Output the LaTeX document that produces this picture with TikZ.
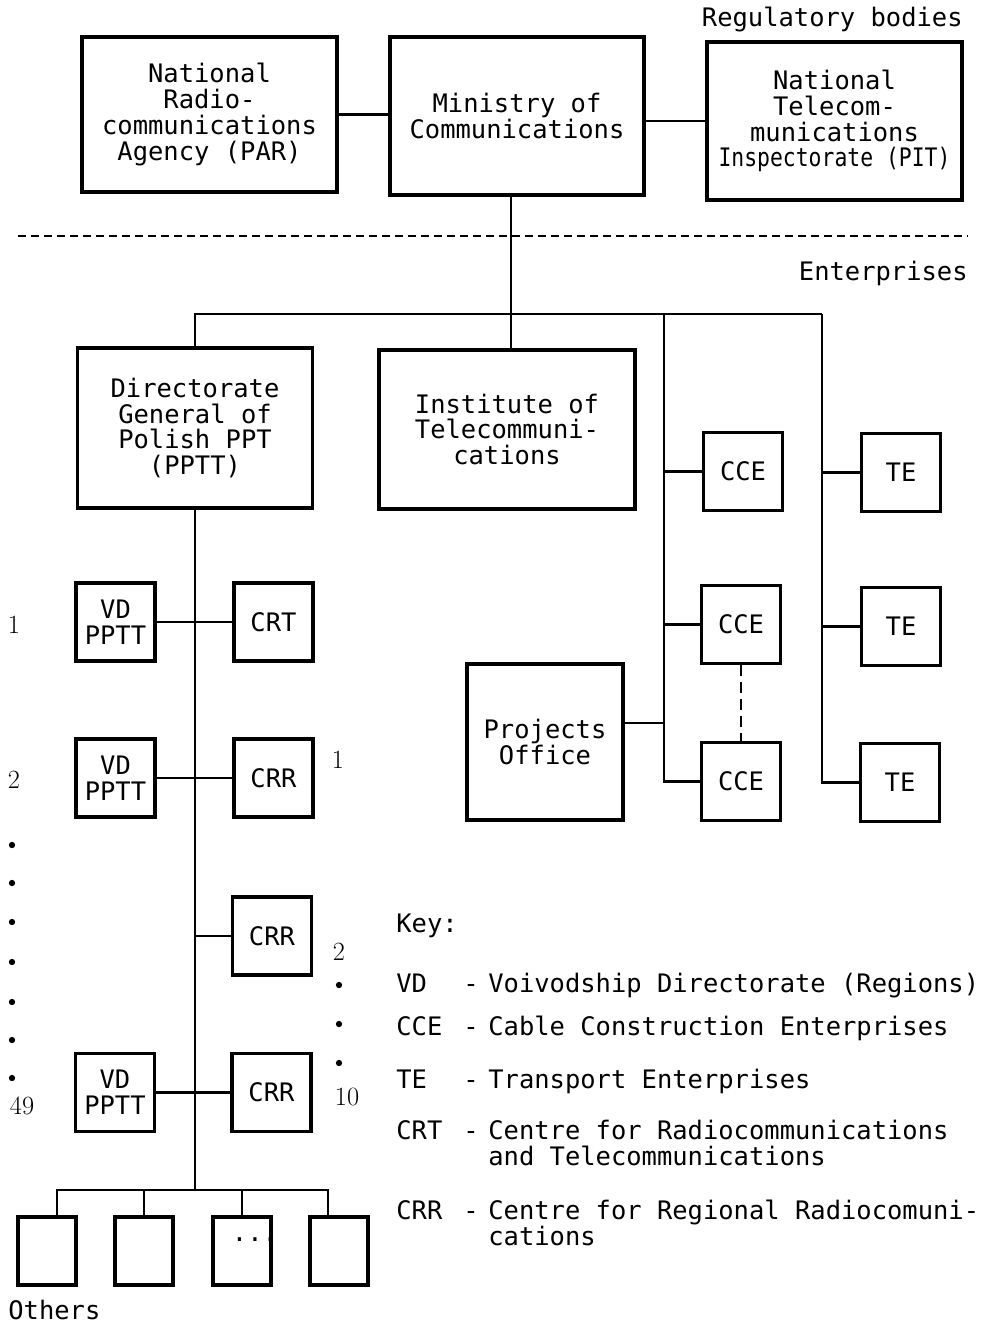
\documentclass[tikz,border=0pt]{standalone}
\usepackage{fontspec}
\usepackage{graphicx}
\newfontfamily\dotmatrix{DejaVu Sans Mono}

\begin{document}
\begin{tikzpicture}[x=0.02cm, y=-0.02cm,
  every node/.style={font=\dotmatrix\fontsize{14.5pt}{14.7pt}\selectfont},
  box/.style={draw, line width=2.2pt, align=center, inner sep=0pt},
  unit/.style={box, minimum width=1.58cm, minimum height=1.56cm},
  other/.style={box, minimum width=1.16cm, minimum height=1.36cm},
  link/.style={line width=1.4pt},
  count/.style={font=\rmfamily\fontsize{15pt}{15pt}\selectfont},
  keyword/.style={anchor=base west, inner sep=0pt}]
\useasboundingbox (0,0) rectangle (989,1324);

% regulatory bodies
\node[anchor=base east, inner sep=0pt] (reglabel) at (963,27) {Regulatory bodies};
\node[box, minimum width=5.1cm, minimum height=3.1cm] (par) at (209.5,114.5) {National\\Radio-\\communications\\Agency (PAR)};
\node[box, minimum width=5.08cm, minimum height=3.16cm] (min) at (517,116) {Ministry of\\Communications};
\node[box, minimum width=5.1cm, minimum height=3.16cm] (pit) at (834.5,121) {National\\Telecom-\\munications\\\scalebox{0.84}[1]{Inspectorate (PIT)}};
\draw[link] (par.east) -- (par.east -| min.west);
\draw[link] (min.east |- pit.west) -- (pit.west);

\draw[line width=1.6pt, dash pattern=on 0.16cm off 0.1cm] (18,236) -- (968,236);
\node[anchor=base east, inner sep=0pt] (entlabel) at (968,281) {Enterprises};

% enterprises
\node[box, minimum width=4.7cm, minimum height=3.2cm] (dg) at (195,428) {Directorate\\General of\\Polish PPT\\(PPTT)};
\node[box, minimum width=5.12cm, minimum height=3.18cm] (inst) at (507,429.5) {Institute of\\Telecommuni-\\cations};
\coordinate (ccecol) at (664,314);
\coordinate (tecol) at (822,314);
\node[unit] (cce1) at (743,471.5) {CCE};
\node[unit] (cce2) at (741,624.5) {CCE};
\node[unit] (cce3) at (741,781.5) {CCE};
\node[unit] (te1) at (901,472.5) {TE};
\node[unit] (te2) at (901,626.5) {TE};
\node[unit] (te3) at (900,782.5) {TE};
\node[box, minimum width=3.12cm, minimum height=3.12cm] (po) at (545,742) {Projects\\Office};

\draw[link] ([xshift=-0.12cm]min.south) -- ([xshift=-0.12cm]min.south |- inst.north);
\draw[link] (dg.north) -- (dg.north |- tecol) -- (tecol);
\draw[link] (ccecol) |- (cce3.west);
\draw[link] (cce1.west) -- (cce1.west -| ccecol);
\draw[link] (cce2.west) -- (cce2.west -| ccecol);
\draw[link] ([yshift=0.38cm]po.east) -- ([yshift=0.38cm]po.east -| ccecol);
\draw[link] (tecol) |- (te3.west);
\draw[link] (te1.west) -- (te1.west -| tecol);
\draw[link] (te2.west) -- (te2.west -| tecol);
\draw[link, dash pattern=on 0.22cm off 0.12cm] (cce2.south) -- (cce3.north);

% PPTT chain
\node[unit] (vd1) at (115.5,622) {VD\\PPTT};
\node[unit] (crt) at (273.5,622) {CRT};
\node[unit] (vd2) at (115.5,778) {VD\\PPTT};
\node[unit] (crr1) at (273.5,778) {CRR};
\node[unit] (crr2) at (272,936) {CRR};
\node[unit] (vd49) at (115,1092.5) {VD\\PPTT};
\node[unit] (crr10) at (271.5,1092.5) {CRR};
\coordinate (obus) at (195,1190);
\draw[link] (dg.south) -- (obus);
\draw[link] (vd1.east) -- (crt.west);
\draw[link] (vd2.east) -- (crr1.west);
\draw[link] (crr2.west) -- (crr2.west -| obus);
\draw[link] (vd49.east) -- (crr10.west);

\node[other] (o1) at (47,1251) {};
\node[other] (o2) at (144,1251) {};
\node[other] (o3) at (242,1251) {};
\node[other] (o4) at (339,1251) {};
\draw[link] ([xshift=0.2cm]o1.north) |- (obus) -| ([xshift=-0.22cm]o4.north);
\draw[link] (o2.north) -- (o2.north |- obus);
\draw[link] (o3.north) -- (o3.north |- obus);
\node (odots) at (255,1240) {...};
\node[keyword] (othlabel) at (8,1319) {Others};

% counts
\node[count] (n1) at (14,625) {1};
\node[count] (n2) at (14,780) {2};
\foreach \y in {845,883,922,962,1002,1040,1078}
  \fill (12,\y) circle (1.8pt);
\node[count] (n49) at (22,1106) {49};
\node[count] (m1) at (338,760) {1};
\node[count] (m2) at (339,952) {2};
\foreach \y in {985,1024,1063}
  \fill (339,\y) circle (1.8pt);
\node[count] (m10) at (347,1097) {10};

% key
\node[keyword] (key) at (396,932) {Key:};
\foreach \abbr/\y in {VD/992, CCE/1035, TE/1088, CRT/1139, CRR/1219} {
  \node[keyword] (key\abbr) at (396,\y) {\abbr};
  \node[keyword] (dash\abbr) at (463,\y) {-};
}
\node[keyword] (descVD) at (488,992) {Voivodship Directorate (Regions)};
\node[keyword] (descCCE) at (488,1035) {Cable Construction Enterprises};
\node[keyword] (descTE) at (488,1088) {Transport Enterprises};
\node[keyword] (descCRT) at (488,1139) {Centre for Radiocommunications};
\node[keyword] (descCRTb) at (488,1165) {and Telecommunications};
\node[keyword] (descCRR) at (488,1219) {Centre for Regional Radiocomuni-};
\node[keyword] (descCRRb) at (488,1245) {cations};
\end{tikzpicture}
\end{document}
